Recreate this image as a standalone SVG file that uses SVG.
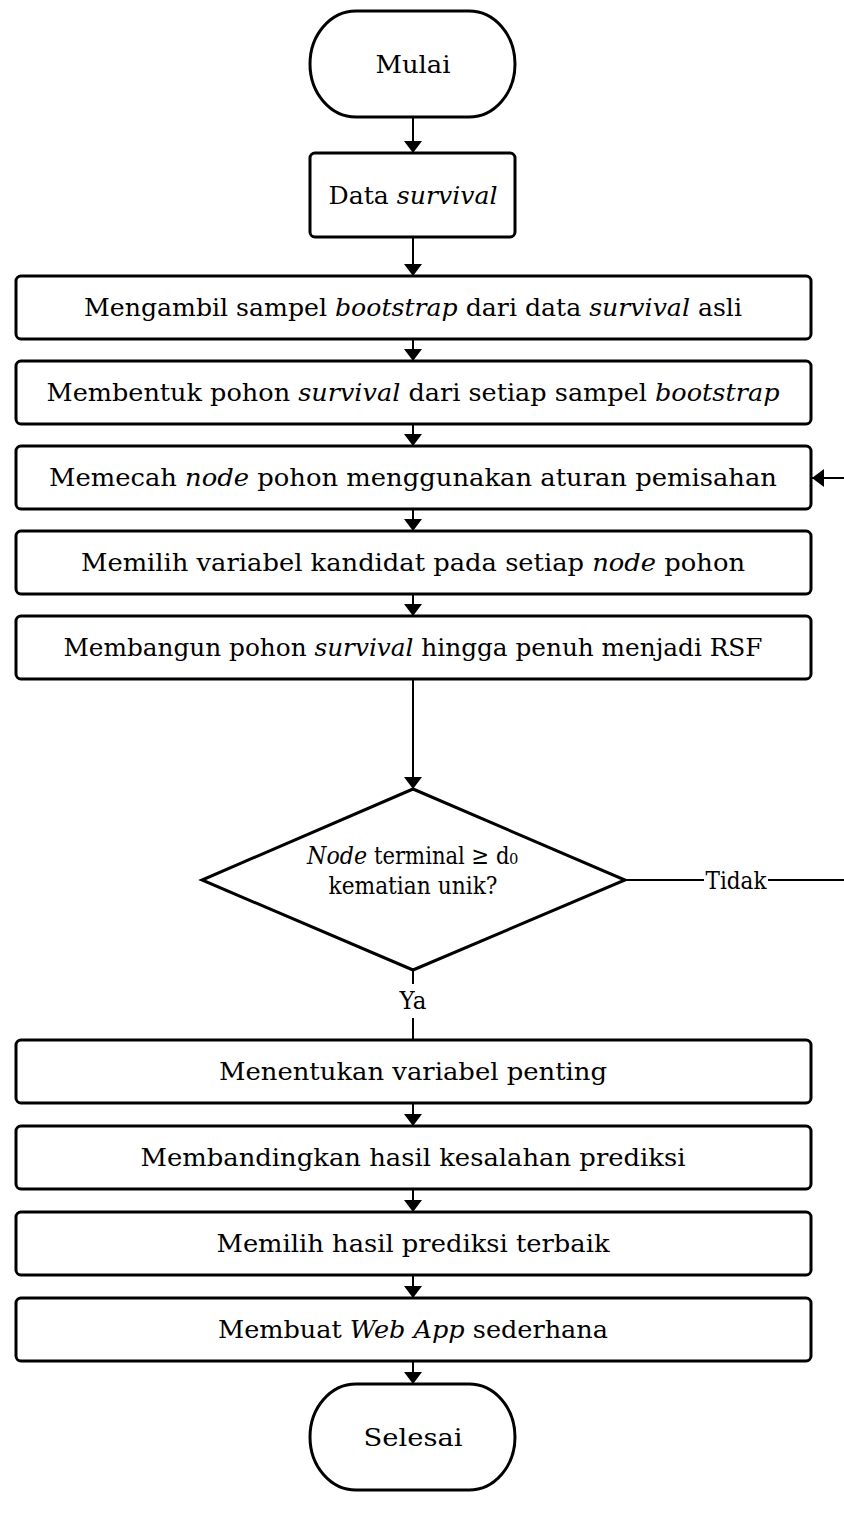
<svg xmlns="http://www.w3.org/2000/svg" width="844" height="1540" viewBox="0 0 844 1540">
<defs>
<marker id="arr" viewBox="0 0 12 18" refX="12" refY="9" markerWidth="12" markerHeight="18" markerUnits="userSpaceOnUse" orient="auto"><path d="M0,0 L12,9 L0,18 z" fill="#000"/></marker>
<style>
.box{fill:#fff;stroke:#000;stroke-width:3}
.t{font-family:"DejaVu Serif","Liberation Serif",serif;font-size:25px;fill:#000;text-anchor:middle}
.s{text-anchor:start}
.i{font-style:italic}
.c{fill:none;stroke:#000;stroke-width:2}
.lb{fill:#fff}
</style>
</defs>
<g id="connectors">
<path class="c" d="M413,117 V153" marker-end="url(#arr)"/>
<path class="c" d="M413,237 V276" marker-end="url(#arr)"/>
<path class="c" d="M413,339 V361" marker-end="url(#arr)"/>
<path class="c" d="M413,424 V446" marker-end="url(#arr)"/>
<path class="c" d="M413,509 V531" marker-end="url(#arr)"/>
<path class="c" d="M413,594 V616" marker-end="url(#arr)"/>
<path class="c" d="M413,679 V789" marker-end="url(#arr)"/>
<path class="c" d="M625,880 H844"/>
<path class="c" d="M844,478 H812" marker-end="url(#arr)"/>
<path class="c" d="M413,970 V1040"/>
<path class="c" d="M413,1103 V1126" marker-end="url(#arr)"/>
<path class="c" d="M413,1189 V1212" marker-end="url(#arr)"/>
<path class="c" d="M413,1275 V1298" marker-end="url(#arr)"/>
<path class="c" d="M413,1361 V1384" marker-end="url(#arr)"/>
<rect class="lb" x="704" y="864" width="64" height="32"/>
<text class="t" x="736" y="889" textLength="61" lengthAdjust="spacingAndGlyphs">Tidak</text>
<rect class="lb" x="398" y="984" width="30" height="34"/>
<text class="t" x="413" y="1009" textLength="27" lengthAdjust="spacingAndGlyphs">Ya</text>
</g>
<g id="n-mulai">
<rect class="box" x="310" y="11" width="205" height="106" rx="46" ry="53"/>
<text class="t" x="413" y="73" textLength="75" lengthAdjust="spacingAndGlyphs">Mulai</text>
</g>
<g id="n-data">
<rect class="box" x="310" y="153" width="205" height="84" rx="5"/>
<text class="t" x="413" y="204" textLength="169" lengthAdjust="spacingAndGlyphs">Data <tspan class="i">survival</tspan></text>
</g>
<g id="n-ambil">
<rect class="box" x="16" y="276" width="795" height="63" rx="5"/>
<text class="t" x="413" y="316" textLength="658" lengthAdjust="spacingAndGlyphs">Mengambil sampel <tspan class="i">bootstrap</tspan> dari data <tspan class="i">survival</tspan> asli</text>
</g>
<g id="n-bentuk">
<rect class="box" x="16" y="361" width="795" height="63" rx="5"/>
<text class="t" x="413" y="401" textLength="733" lengthAdjust="spacingAndGlyphs">Membentuk pohon <tspan class="i">survival</tspan> dari setiap sampel <tspan class="i">bootstrap</tspan></text>
</g>
<g id="n-pecah">
<rect class="box" x="16" y="446" width="795" height="63" rx="5"/>
<text class="t" x="413" y="486" textLength="728" lengthAdjust="spacingAndGlyphs">Memecah <tspan class="i">node</tspan> pohon menggunakan aturan pemisahan</text>
</g>
<g id="n-pilih">
<rect class="box" x="16" y="531" width="795" height="63" rx="5"/>
<text class="t" x="413" y="571" textLength="664" lengthAdjust="spacingAndGlyphs">Memilih variabel kandidat pada setiap <tspan class="i">node</tspan> pohon</text>
</g>
<g id="n-bangun">
<rect class="box" x="16" y="616" width="795" height="63" rx="5"/>
<text class="t" x="413" y="656" textLength="699" lengthAdjust="spacingAndGlyphs">Membangun pohon <tspan class="i">survival</tspan> hingga penuh menjadi RSF</text>
</g>
<g id="n-decision">
<polygon class="box" points="413,789 625,880 413,970 202,880"/>
<text class="t s i" x="307" y="864" textLength="60" lengthAdjust="spacingAndGlyphs">Node</text>
<text class="t s" x="374" y="864" textLength="144" lengthAdjust="spacingAndGlyphs">terminal ≥ d₀</text>
<text class="t" x="413" y="894" textLength="169" lengthAdjust="spacingAndGlyphs">kematian unik?</text>
</g>
<g id="n-tentukan">
<rect class="box" x="16" y="1040" width="795" height="63" rx="5"/>
<text class="t" x="413" y="1080" textLength="388" lengthAdjust="spacingAndGlyphs">Menentukan variabel penting</text>
</g>
<g id="n-banding">
<rect class="box" x="16" y="1126" width="795" height="63" rx="5"/>
<text class="t" x="413" y="1166" textLength="545" lengthAdjust="spacingAndGlyphs">Membandingkan hasil kesalahan prediksi</text>
</g>
<g id="n-terbaik">
<rect class="box" x="16" y="1212" width="795" height="63" rx="5"/>
<text class="t" x="413" y="1252" textLength="393" lengthAdjust="spacingAndGlyphs">Memilih hasil prediksi terbaik</text>
</g>
<g id="n-webapp">
<rect class="box" x="16" y="1298" width="795" height="63" rx="5"/>
<text class="t" x="413" y="1338" textLength="390" lengthAdjust="spacingAndGlyphs">Membuat <tspan class="i">Web App</tspan> sederhana</text>
</g>
<g id="n-selesai">
<rect class="box" x="310" y="1384" width="205" height="106" rx="46" ry="53"/>
<text class="t" x="413" y="1446" textLength="99" lengthAdjust="spacingAndGlyphs">Selesai</text>
</g>
</svg>
